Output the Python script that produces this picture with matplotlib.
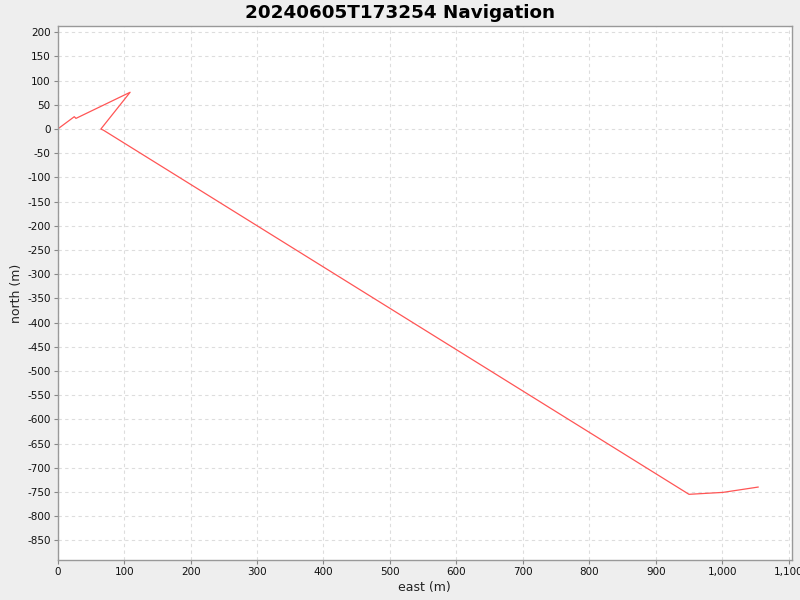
import matplotlib
matplotlib.use("Agg")
import matplotlib.pyplot as plt
from matplotlib.ticker import FuncFormatter, MultipleLocator

east = [0, 25, 27.5, 109, 65, 69, 950, 1001, 1054]
north = [0, 25.5, 22, 76, 0, -2.5, -755, -751, -740]

title = "20240605T173254 Navigation"
xlabel = "east (m)"
ylabel = "north (m)"

fig = plt.figure(figsize=(8, 6), dpi=100, facecolor="#eeeeee")
ax = fig.add_axes([0.0721, 0.0667, 0.9179, 0.89])
ax.set_facecolor("white")
ax.plot(east, north, color="#ff5555", linewidth=0.9, antialiased=True)

ax.set_xlim(0, 1105)
ax.set_ylim(-890.7, 213)
ax.xaxis.set_major_locator(MultipleLocator(100))
ax.yaxis.set_major_locator(MultipleLocator(50))
ax.xaxis.set_major_formatter(FuncFormatter(lambda v, p: f"{int(round(v)):,}"))
ax.yaxis.set_major_formatter(FuncFormatter(lambda v, p: f"{int(round(v))}"))

ax.grid(True, color="#dddddd", linestyle=(0, (3, 3)), linewidth=0.8)
ax.set_axisbelow(True)
for s in ax.spines.values():
    s.set_color("#999999")
    s.set_linewidth(1.0)
ax.tick_params(axis="both", direction="out", length=3, width=0.8, color="#888888",
               labelsize=7.5, labelcolor="#111111", pad=2)

ax.set_xlabel(xlabel, fontsize=9, color="#222222", labelpad=3)
ax.set_ylabel(ylabel, fontsize=9, color="#222222", labelpad=3)
fig.text(0.5, 1 - 12.5 / 600, title, ha="center", va="center", fontsize=13.2,
         fontweight="bold", color="black")

fig.savefig("out.png", dpi=100, facecolor=fig.get_facecolor())
